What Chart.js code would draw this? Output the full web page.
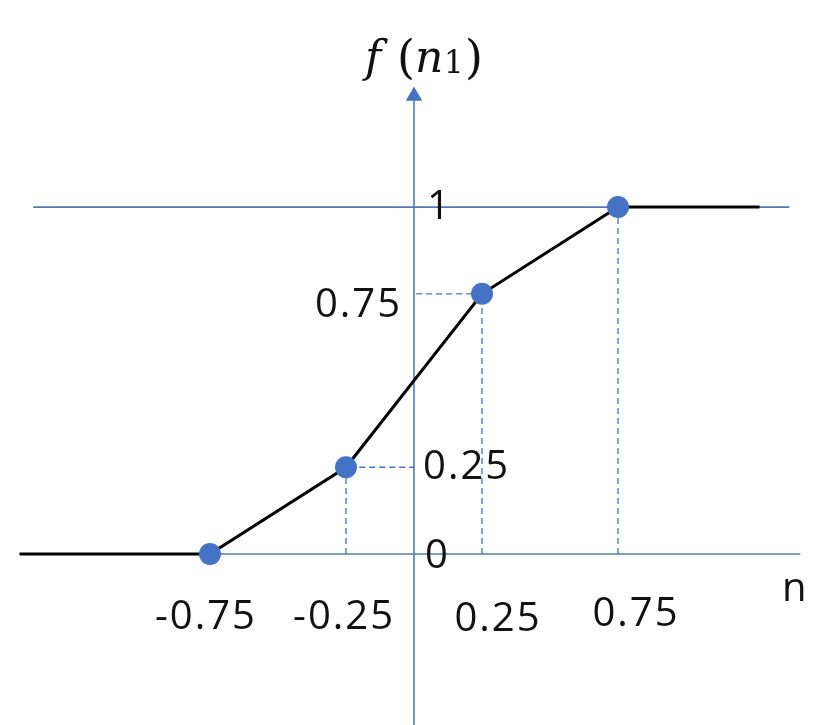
<!DOCTYPE html>
<html>
<head>
<meta charset="utf-8">
<script src="https://cdn.jsdelivr.net/npm/chart.js@4.4.1/dist/chart.umd.min.js"></script>
<style>
  body { margin: 0; background: #fff; }
  #wrap { width: 837px; height: 725px; position: relative; }
</style>
</head>
<body>
<div id="wrap"><canvas id="fnChart"></canvas></div>
<script>
// function f(n1): breakpoints
let fnX = [-1.45, -0.75, -0.25, 0.25, 0.75, 1.27];
let fnY = [0, 0, 0.25, 0.75, 1, 1];
let fnMarks = [false, true, true, true, true, false];

// axes and reference line
let xAxisX = [-1.45, 1.42];
let yAxisY = [-0.5, 1.32];
let oneLineX = [-1.4, 1.38];

// dashed guides
let guideA = [[-0.25, 0], [-0.25, 0.25], [0, 0.25]];
let guideB = [[0.25, 0], [0.25, 0.75], [0, 0.75]];
let guideC = [[0.75, 0], [0.75, 1]];

// tick labels
let xTicks = [-0.75, -0.25, 0.25, 0.75];
let xTickLabels = ['-0.75', '-0.25', '0.25', '0.75'];
let yTicks = [0, 0.25, 0.75, 1];
let yTickLabels = ['0', '0.25', '0.75', '1'];

const blue = '#4472c4';
const axisBlue = '#5578b4';

function pts(xs, ys) {
    return xs.map((x, i) => ({ x: x, y: ys[i] }));
}
function pairs(arr) {
    return arr.map(p => ({ x: p[0], y: p[1] }));
}

// label placement (pixel nudges, the source figure is hand placed)
const xLabelShift = [[-4, 64], [-2, 64], [16, 66], [18, 61]];
const yLabelPlace = [['right', 11, 3], ['right', 9, 0], ['left', -12, 12], ['right', 13, 1]];

const labelPlugin = {
    id: 'labels',
    afterDatasetsDraw(chart) {
        const ctx = chart.ctx;
        const xs = chart.scales.x, ys = chart.scales.y;
        const x0 = xs.getPixelForValue(0), y0 = ys.getPixelForValue(0);
        ctx.save();
        ctx.fillStyle = '#111';
        ctx.textBaseline = 'middle';
        ctx.font = '40px "Open Sans"';
        ctx.letterSpacing = '2px';
        ctx.textAlign = 'center';
        xTicks.forEach((v, i) => {
            ctx.fillText(xTickLabels[i], xs.getPixelForValue(v) + xLabelShift[i][0], y0 + xLabelShift[i][1]);
        });
        yTicks.forEach((v, i) => {
            let p = yLabelPlace[i];
            ctx.textAlign = p[0] === 'right' ? 'left' : 'right';
            ctx.fillText(yTickLabels[i], x0 + p[1], ys.getPixelForValue(v) + p[2]);
        });
        // axis name
        ctx.textAlign = 'center';
        ctx.fillText('n', xs.getPixelForValue(xAxisX[1]) - 5, y0 + 36);
        ctx.letterSpacing = '0px';

        // title f(n1)
        ctx.textAlign = 'left';
        ctx.textBaseline = 'alphabetic';
        let tx = x0 - 49, ty = 72;
        ctx.font = 'italic 44px "DejaVu Serif"';
        ctx.fillText('f', tx, ty);
        ctx.font = '46px "DejaVu Serif"';
        ctx.fillText('(', tx + 32, ty + 1);
        ctx.font = 'italic 44px "DejaVu Serif"';
        ctx.fillText('n', tx + 50, ty);
        ctx.font = '31px "DejaVu Serif"';
        ctx.fillText('1', tx + 79, ty + 1);
        ctx.font = '46px "DejaVu Serif"';
        ctx.fillText(')', tx + 100, ty + 1);
        ctx.restore();
    }
};

const guideStyle = {
    showLine: true, borderColor: blue, borderWidth: 1.3, borderDash: [6, 4],
    pointRadius: 0, fill: false
};

new Chart(document.getElementById('fnChart'), {
    type: 'scatter',
    data: {
        datasets: [
            {
                data: pts(fnX, fnY),
                showLine: true,
                borderColor: '#000',
                borderWidth: 3,
                pointRadius: fnMarks.map(m => m ? 11 : 0),
                pointBackgroundColor: blue,
                pointBorderColor: blue,
                pointBorderWidth: 0,
                order: 0
            },
            {
                // arrow head on the vertical axis
                data: [{ x: 0, y: yAxisY[1] }],
                pointStyle: 'triangle',
                pointRadius: 9.5,
                pointBackgroundColor: blue,
                pointBorderColor: blue,
                pointBorderWidth: 0,
                order: 1
            },
            Object.assign({ data: pairs(guideA), order: 2 }, guideStyle),
            Object.assign({ data: pairs(guideB), order: 2 }, guideStyle),
            Object.assign({ data: pairs(guideC), order: 2 }, guideStyle),
            {
                data: pts(xAxisX, [0, 0]),
                showLine: true, borderColor: axisBlue, borderWidth: 1.6, pointRadius: 0,
                order: 3
            },
            {
                data: pts([0, 0], yAxisY),
                showLine: true, borderColor: axisBlue, borderWidth: 1.6, pointRadius: 0,
                order: 3
            },
            {
                data: pts(oneLineX, [1, 1]),
                showLine: true, borderColor: axisBlue, borderWidth: 1.6, pointRadius: 0,
                order: 3
            }
        ]
    },
    options: {
        responsive: true,
        maintainAspectRatio: false,
        animation: false,
        layout: { padding: 0, autoPadding: false },
        plugins: {
            legend: { display: false },
            tooltip: { enabled: false }
        },
        scales: {
            x: { type: 'linear', display: false, min: -1.522, max: 1.555 },
            y: { type: 'linear', display: false, min: -0.493, max: 1.597 }
        }
    },
    plugins: [labelPlugin]
});
</script>
</body>
</html>
